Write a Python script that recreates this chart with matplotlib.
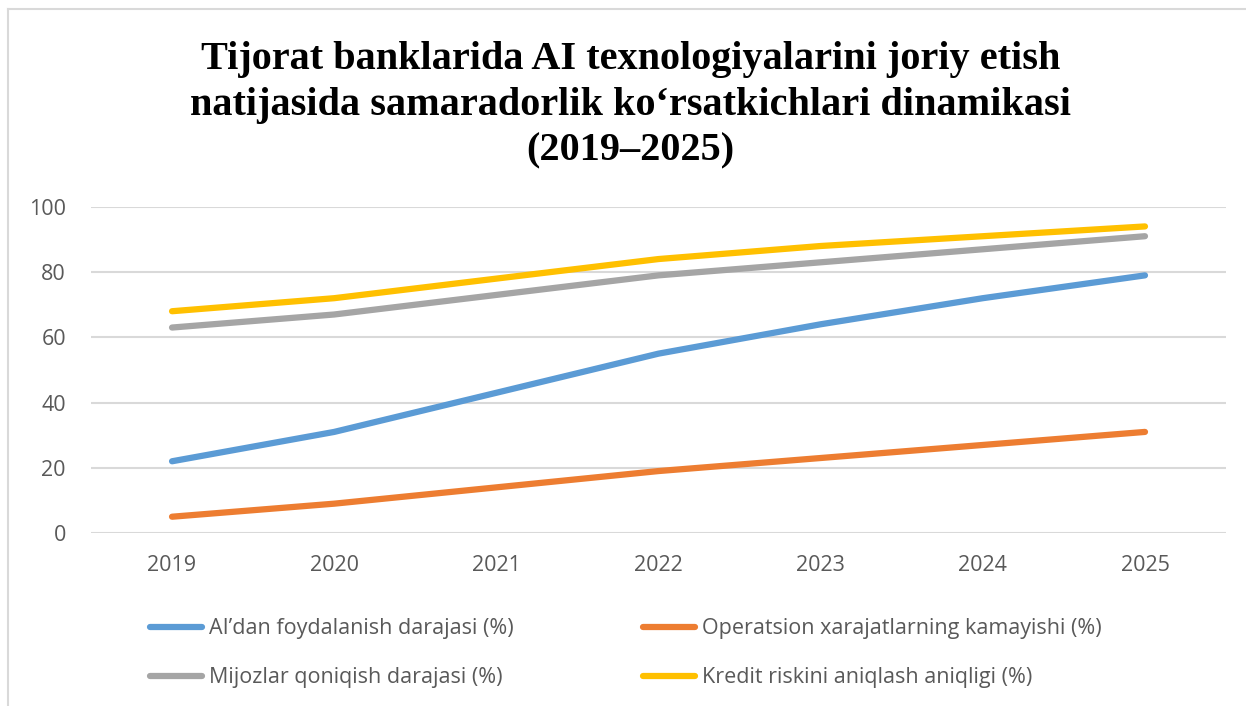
import matplotlib.pyplot as plt
from matplotlib.lines import Line2D

years = ["2019", "2020", "2021", "2022", "2023", "2024", "2025"]
ai_usage = [22, 31, 43, 55, 64, 72, 79]
cost_reduction = [5, 9, 14, 19, 23, 27, 31]
satisfaction = [63, 67, 73, 79, 83, 87, 91]
credit_accuracy = [68, 72, 78, 84, 88, 91, 94]

labels = ["AI\u2019dan foydalanish darajasi (%)",
          "Operatsion xarajatlarning kamayishi (%)",
          "Mijozlar qoniqish darajasi (%)",
          "Kredit riskini aniqlash aniqligi (%)"]
colors = ["#5b9bd5", "#ed7d31", "#a5a5a5", "#ffc000"]

title = ("Tijorat banklarida AI texnologiyalarini joriy etish\n"
         "natijasida samaradorlik ko\u2018rsatkichlari dinamikasi\n"
         "(2019\u20132025)")

fig = plt.figure(figsize=(12.46, 7.06), dpi=100)
ax = fig.add_axes([0.073, 0.245, 0.911, 0.462])

x = range(len(years))
series = [ai_usage, cost_reduction, satisfaction, credit_accuracy]
for vals, lab, col in zip(series, labels, colors):
    ax.plot(x, vals, color=col, lw=4.5, solid_capstyle="round", label=lab)

ax.set_xlim(-0.5, len(years) - 0.5)
ax.set_ylim(0, 100)
ax.set_yticks([0, 20, 40, 60, 80, 100])
ax.set_xticks(list(x))
ax.set_xticklabels(years)
ax.grid(axis="y", color="#d9d9d9", lw=1.5)
ax.set_axisbelow(True)
for s in ax.spines.values():
    s.set_visible(False)
ax.tick_params(length=0, labelsize=15.5, labelcolor="#595959", pad=16)
for t in ax.get_xticklabels() + ax.get_yticklabels():
    t.set_family("Open Sans")
ax.tick_params(axis="y", pad=18)

fig.text(0.506, 0.851, title, ha="center", va="center", family="Liberation Serif",
         fontweight="bold", fontsize=29, linespacing=1.3)

# order handles so rows read: AI, Operatsion / Mijozlar, Kredit
h, l = ax.get_legend_handles_labels()
order = [0, 2, 1, 3]
leg = fig.legend([h[i] for i in order], [l[i] for i in order], ncol=2,
                 loc="upper left", bbox_to_anchor=(0.105, 0.152), frameon=False,
                 prop={"family": "Open Sans", "size": 15.5}, handlelength=2.4,
                 handletextpad=0.35, columnspacing=6.0, labelspacing=1.3)
for t in leg.get_texts():
    t.set_color("#595959")

# chart frame edges visible in the crop
fig.add_artist(Line2D([8 / 1246, 8 / 1246], [0, 1 - 9 / 706], color="#d9d9d9", lw=1.5))
fig.add_artist(Line2D([8 / 1246, 1], [1 - 9 / 706, 1 - 9 / 706], color="#d9d9d9", lw=1.5))

fig.savefig("out.png", dpi=100, facecolor="white")
